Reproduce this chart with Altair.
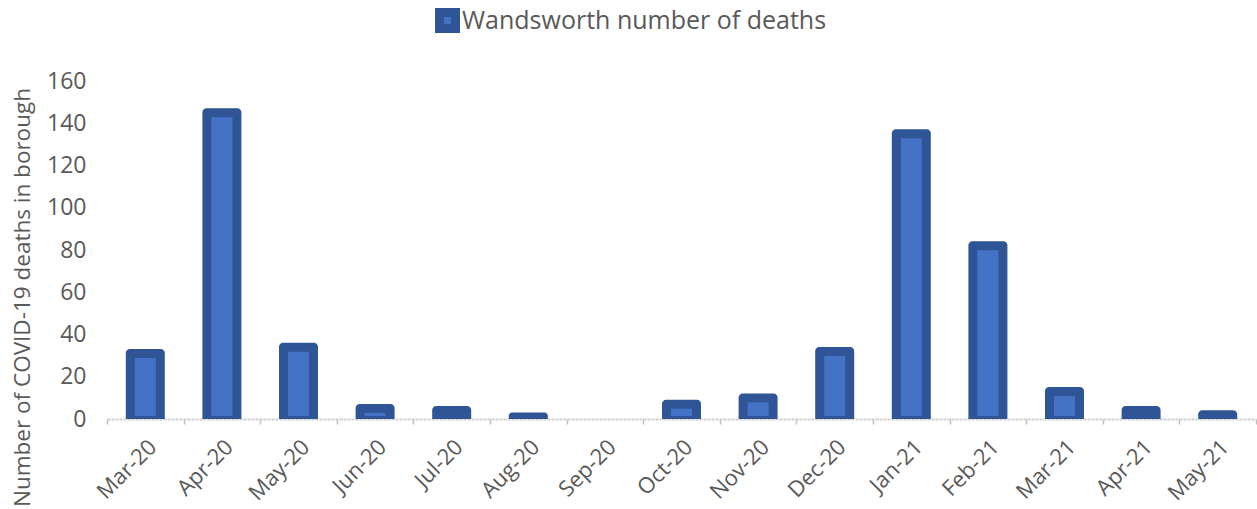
import altair as alt
import pandas as pd

# Monthly COVID-19 deaths registered in Wandsworth
months = ["Mar-20", "Apr-20", "May-20", "Jun-20", "Jul-20", "Aug-20", "Sep-20",
          "Oct-20", "Nov-20", "Dec-20", "Jan-21", "Feb-21", "Mar-21", "Apr-21", "May-21"]
deaths = [31, 145, 34, 5, 4, 1, 0, 7, 10, 32, 135, 82, 13, 4, 2]
series_name = "Wandsworth number of deaths"
y_ticks = [0, 20, 40, 60, 80, 100, 120, 140, 160]

df = pd.DataFrame({"month": months, "deaths": deaths, "series": series_name})

FONT = "Open Sans"
TEXT = "#595959"
FILL = "#4472C4"
EDGE = "#2F5597"

x_enc = alt.X(
    "month:N",
    sort=months,
    scale=alt.Scale(domain=months, paddingInner=0, paddingOuter=0),
    axis=alt.Axis(
        title=None,
        labelAngle=-45,
        labelFont=FONT,
        labelFontSize=22,
        labelColor=TEXT,
        labelPadding=12,
        domainColor="#D0D0D0",
        domainWidth=2,
        domainDash=[3, 1],
        tickColor="#BFBFBF",
        tickSize=5,
        tickWidth=1.5,
        tickBand="extent",
        grid=False,
    ),
)

y_enc = alt.Y(
    "deaths:Q",
    scale=alt.Scale(domain=[0, 160], nice=False),
    axis=alt.Axis(
        title="Number of COVID-19 deaths in borough",
        titleFont=FONT,
        titleFontSize=22.5,
        titleFontWeight="normal",
        titleColor=TEXT,
        titleAngle=-90,
        titleAlign="center",
        titleBaseline="middle",
        titleX=-85,
        titleY=216,
        values=y_ticks,
        labelFont=FONT,
        labelFontSize=23,
        labelColor=TEXT,
        labelPadding=21,
        domain=False,
        ticks=False,
        grid=False,
    ),
)

# Bars start at zero, given explicitly so the bottom edge takes its own offset
y2_enc = alt.Y2Datum(0)

base = alt.Chart(df).transform_filter(alt.datum.deaths > 0)

# Dark outer body of each bar: top half an outline above the value, bottom on the axis
outer = base.mark_bar(
    size=39, fill=EDGE, yOffset=-4.5, y2Offset=0, cornerRadiusTopLeft=4, cornerRadiusTopRight=4
).encode(x=x_enc, y=y_enc, y2=y2_enc)

# Lighter inner body, inset by the outline on the top and sides
inner = (
    base.transform_filter(alt.datum.deaths > 4)
    .mark_bar(size=21, fill=FILL, yOffset=4.5, y2Offset=-3)
    .encode(x=x_enc, y=y_enc, y2=y2_enc)
)

# Invisible copy of the bars that carries the series legend
legend_layer = base.mark_bar(size=30, opacity=0).encode(
    x=x_enc,
    y=y_enc,
    fill=alt.Fill(
        "series:N",
        scale=alt.Scale(domain=[series_name], range=[FILL]),
        legend=alt.Legend(
            title=None,
            orient="none",
            legendX=328,
            legendY=-73,
            symbolType="square",
            symbolSize=256,
            symbolStrokeWidth=9,
            symbolStrokeColor=EDGE,
            symbolFillColor=FILL,
            symbolOpacity=1,
            labelFont=FONT,
            labelFontSize=25,
            labelColor=TEXT,
            labelOffset=2,
            labelLimit=0,
            padding=0,
        ),
    ),
)

chart = (
    alt.layer(legend_layer, outer, inner)
    .properties(
        width=1149,
        height=338,
        autosize=alt.AutoSizeParams(type="none"),
        padding={"left": 107, "top": 81, "right": 1, "bottom": 90},
    )
    .configure(background="white")
    .configure_view(stroke=None)
)

chart.save("out.html", embed_options={"renderer": "svg", "actions": False})
